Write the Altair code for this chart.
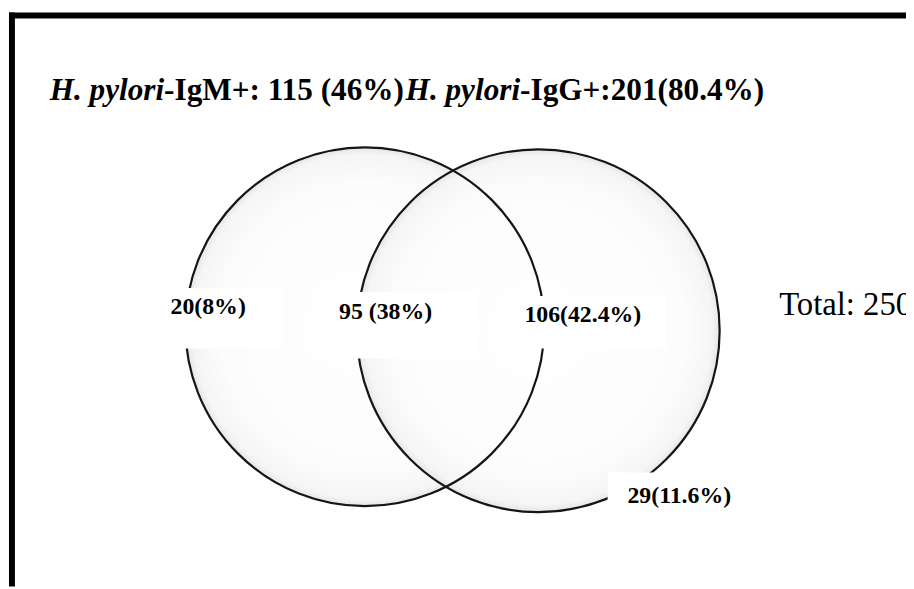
import altair as alt
import pandas as pd

# ---- chart values ----
title_segments = ["H. pylori", "-IgM+: 115 (46%)", "H. pylori", "-IgG+:201(80.4%)"]
title_italic = [True, False, True, False]
region_labels = ["20(8%)", "95 (38%)", "106(42.4%)", "29(11.6%)"]
total_label = "Total: 250"
set_names = ["IgM+", "IgG+"]

# ---- layout (reference pixel coordinates) ----
circle_cx = [368, 543]
circle_cy = [327, 331]
circle_r = [181, 183]
label_x = [172, 342, 529, 633]
label_y = [314, 319, 322, 505]
box_x1 = [140, 322, 510, 613]
box_x2 = [285, 481, 672, 770]
box_y1 = [288, 292, 296, 474]
box_y2 = [349, 359, 349, 545]

W, H = 906, 581
TITLE_SIZE = 31.5
LABEL_SIZE = 24

# Times/Liberation Serif metrics (per 1000 em)
bold_w = {" ": 250, "-": 333, ".": 250, ":": 333, "+": 570, "(": 333, ")": 333, "%": 1000,
          "I": 389, "g": 500, "M": 944, "G": 778, "H": 778}
bi_w = {"H": 778, ".": 250, " ": 250, "p": 500, "y": 444, "l": 278, "o": 500, "r": 389, "i": 278}


def seg_width(s, italic):
    tbl = bi_w if italic else bold_w
    return sum(tbl.get(c, 500) for c in s) * TITLE_SIZE / 1000.0


tx = []
cur = 50
for s, it in zip(title_segments, title_italic):
    tx.append(cur)
    cur += seg_width(s, it)

title_df = pd.DataFrame({"text": title_segments, "italic": title_italic, "x": tx, "y": [98] * 4})

xs = alt.Scale(domain=[8, 8 + W], nice=False, zero=False)
ys = alt.Scale(domain=[8, 8 + H], nice=False, zero=False, reverse=True)

circles = pd.DataFrame({"set": set_names, "cx": circle_cx, "cy": circle_cy, "r": circle_r})
circles["size"] = 4 * circles["r"] ** 2

grad = alt.RadialGradient(
    gradient="radial",
    stops=[
        alt.GradientStop(color="#ffffff", offset=0),
        alt.GradientStop(color="#fcfcfc", offset=0.8),
        alt.GradientStop(color="#f5f5f5", offset=0.96),
        alt.GradientStop(color="#e6e6e6", offset=1),
    ],
    x1=0.5, y1=0.5, r1=0, x2=0.5, y2=0.5, r2=0.5,
)

base_c = alt.Chart(circles).encode(
    x=alt.X("cx:Q", scale=xs, axis=None),
    y=alt.Y("cy:Q", scale=ys, axis=None),
    size=alt.Size("size:Q", scale=None, legend=None),
)
fills = base_c.mark_point(shape="circle", filled=True, fill=grad, opacity=1, strokeWidth=0)
strokes = base_c.mark_point(shape="circle", filled=False, stroke="#151515", strokeWidth=2.2, opacity=1)

boxes_df = pd.DataFrame({"x1": box_x1, "x2": box_x2, "y1": box_y1, "y2": box_y2})
boxes = alt.Chart(boxes_df).mark_rect(fill="white", opacity=1).encode(
    x=alt.X("x1:Q", scale=xs, axis=None), x2="x2:Q",
    y=alt.Y("y1:Q", scale=ys, axis=None), y2="y2:Q",
)

labels_df = pd.DataFrame({"text": region_labels, "x": label_x, "y": label_y})
labels = alt.Chart(labels_df).mark_text(
    align="left", baseline="alphabetic", font="Liberation Serif", fontWeight="bold",
    fontSize=LABEL_SIZE, color="black",
).encode(x=alt.X("x:Q", scale=xs, axis=None), y=alt.Y("y:Q", scale=ys, axis=None), text="text:N")

total_df = pd.DataFrame({"text": [total_label], "x": [786], "y": [315]})
total = alt.Chart(total_df).mark_text(
    align="left", baseline="alphabetic", font="Liberation Serif", fontSize=33, color="black",
).encode(x=alt.X("x:Q", scale=xs, axis=None), y=alt.Y("y:Q", scale=ys, axis=None), text="text:N")

t_it = alt.Chart(title_df[title_df["italic"]]).mark_text(
    align="left", baseline="alphabetic", font="Liberation Serif", fontWeight="bold",
    fontStyle="italic", fontSize=TITLE_SIZE, color="black",
).encode(x=alt.X("x:Q", scale=xs, axis=None), y=alt.Y("y:Q", scale=ys, axis=None), text="text:N")
t_no = alt.Chart(title_df[~title_df["italic"]]).mark_text(
    align="left", baseline="alphabetic", font="Liberation Serif", fontWeight="bold",
    fontSize=TITLE_SIZE, color="black",
).encode(x=alt.X("x:Q", scale=xs, axis=None), y=alt.Y("y:Q", scale=ys, axis=None), text="text:N")

border_top = alt.Chart(pd.DataFrame({"x1": [9], "x2": [8 + W], "y": [13]})).mark_rule(
    color="black", strokeWidth=6, strokeCap="butt"
).encode(x=alt.X("x1:Q", scale=xs, axis=None), x2="x2:Q", y=alt.Y("y:Q", scale=ys, axis=None))
border_left = alt.Chart(pd.DataFrame({"x": [12], "y1": [10], "y2": [8 + H]})).mark_rule(
    color="black", strokeWidth=6, strokeCap="butt"
).encode(x=alt.X("x:Q", scale=xs, axis=None), y=alt.Y("y1:Q", scale=ys, axis=None), y2="y2:Q")

chart = alt.layer(fills, strokes, boxes, labels, total, t_it, t_no, border_top, border_left).properties(
    width=W, height=H, padding=0, autosize=alt.AutoSizeParams(type="none"), background="white"
).configure_view(stroke=None)

chart.save("out.html", embed_options={"renderer": "svg", "actions": False})
